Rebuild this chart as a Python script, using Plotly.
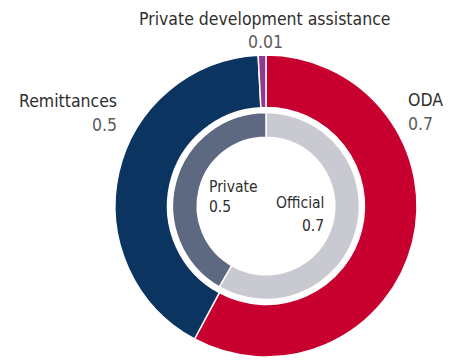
import plotly.graph_objects as go

W, H = 460, 362

# outer ring: flows
outer_labels = ["ODA", "Remittances", "Private development assistance"]
outer_values = [0.7, 0.5, 0.01]
outer_colors = ["#c8002f", "#0b3460", "#8e3a92"]

# inner ring: official vs private
inner_labels = ["Official", "Private"]
inner_values = [0.7, 0.5]
inner_colors = ["#c9cad1", "#5d6980"]

FONT = "DejaVu Sans Condensed, Roboto, sans-serif"


def px_dom(cx, cy, r):
    # pixel centre/radius -> paper domain
    return dict(x=[(cx - r) / W, (cx + r) / W],
                y=[1 - (cy + r) / H, 1 - (cy - r) / H])


fig = go.Figure()
fig.add_trace(go.Pie(
    labels=outer_labels, values=outer_values, sort=False, direction="clockwise",
    rotation=0, hole=0.652, textinfo="none", hoverinfo="label+value",
    marker=dict(colors=outer_colors, line=dict(color="white", width=1.5)),
    domain=px_dom(266, 206, 151), showlegend=False,
))
fig.add_trace(go.Pie(
    labels=inner_labels, values=inner_values, sort=False, direction="clockwise",
    rotation=0, hole=0.736, textinfo="none", hoverinfo="label+value",
    marker=dict(colors=inner_colors, line=dict(color="white", width=1.5)),
    domain=px_dom(266, 206, 93.5), showlegend=False,
))

dark = "#2e2e2e"
grey = "#5a5a5a"


def note(text, x, y, color, size, anchor):
    fig.add_annotation(text=text, x=x / W, y=1 - y / H, xref="paper", yref="paper",
                       showarrow=False, xanchor=anchor, yanchor="middle",
                       font=dict(color=color, size=size, family=FONT))


note("Private development assistance", 265, 19, dark, 17.5, "center")
note("0.01", 265, 42, grey, 17.5, "center")
note("Remittances", 119, 101, dark, 17.5, "right")
note("0.5", 119, 125, grey, 17.5, "right")
note("ODA", 406, 100, dark, 17.5, "left")
note("0.7", 406, 124, grey, 17.5, "left")
note("Private", 207, 187, dark, 15.5, "left")
note("0.5", 207, 207, dark, 15.5, "left")
note("Official", 326, 203, dark, 15.5, "right")
note("0.7", 326, 226, dark, 15.5, "right")

fig.update_layout(
    width=W, height=H,
    margin=dict(l=0, r=0, t=0, b=0),
    paper_bgcolor="white",
    font=dict(family=FONT, size=16, color=dark),
)

# page body has an 8px default margin; drop it so the chart sits at 0,0
fig.write_html("out.html", config={"displayModeBar": False},
               post_script="document.body.style.margin='0';")
